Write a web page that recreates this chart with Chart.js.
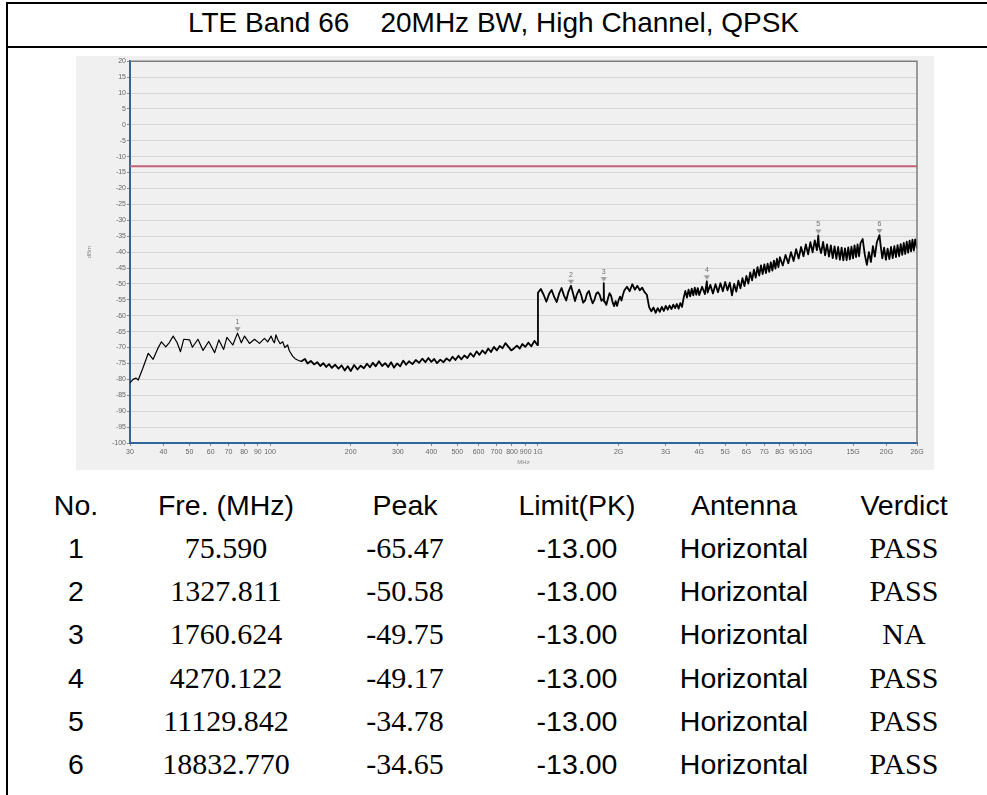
<!DOCTYPE html>
<html>
<head>
<meta charset="utf-8">
<title>LTE Band 66 20MHz BW, High Channel, QPSK</title>
<script src="https://cdn.jsdelivr.net/npm/chart.js@4.4.1/dist/chart.umd.min.js"></script>
<style>
  body { margin: 0; background: #fff; }
  #page { position: relative; width: 987px; height: 795px; overflow: hidden; background: #fff; }
  .rule { position: absolute; background: #000; }
  #title {
    position: absolute; left: 0; top: 23px; width: 987px; transform: translateY(-50%);
    text-align: center; font-family: "Liberation Sans", Arial, sans-serif; font-size: 28px;
    line-height: 1; white-space: pre; color: #000;
  }
  #chartBox { position: absolute; left: 76px; top: 56px; width: 858px; height: 414px; background: #f0f0f0; }
  .cell {
    position: absolute; transform: translate(-50%, -50%); line-height: 1; white-space: nowrap; color: #000;
    font-family: "Liberation Sans", Arial, sans-serif; font-size: 28.5px;
  }
  .cell.serif { font-family: "Liberation Serif", "Times New Roman", serif; font-size: 30px; }
</style>
</head>
<body>
<div id="page">
  <div class="rule" style="left:6px; top:2px; width:2px; height:793px;"></div>
  <div class="rule" style="left:6px; top:2px; width:981px; height:2px;"></div>
  <div class="rule" style="left:6px; top:46px; width:981px; height:2px;"></div>
  <div id="title">LTE Band 66    20MHz BW, High Channel, QPSK</div>
  <div id="chartBox"><canvas id="chart" width="858" height="414"></canvas></div>
  <div id="table"></div>
</div>

<script>
// ==================================================
// 1. DATA
// ==================================================
// Spectrum trace: [frequency MHz, level dBm]
const trace = [
  // 30 - 130 MHz
  [30,-81.1],[30.8,-80.0],[31.6,-79.6],[32.2,-80.2],[33.5,-76.5],[35.1,-71.8],[36.6,-73.7],[38.0,-70.5],
  [39.3,-68.2],[40.8,-69.8],[42.0,-68.5],[43.5,-66.4],[45.0,-68.5],[46.3,-71.3],[47.6,-67.4],[50.1,-67.6],
  [51.3,-69.9],[53.8,-67.4],[56.2,-70.9],[59.0,-68.1],[62.1,-71.6],[64.4,-67.6],[67.1,-70.6],[69.0,-66.8],
  [72.6,-69.2],[75.59,-65.47],[78.1,-68.5],[80.3,-66.4],[83.8,-68.7],[87.5,-67.4],[91.3,-68.7],[95.3,-67.1],
  [98.0,-68.2],[100.9,-66.4],[102.5,-67.8],[103.8,-68.5],[105.2,-66.0],[106.7,-67.4],[109,-68.8],[111.5,-68.2],
  [113.5,-70.0],[116.3,-69.2],[118,-71.0],[121.4,-72.7],[124,-73.5],[126.7,-73.9],[130.5,-74.4],
  // 135 MHz - 1 GHz
  [135,-73.6],[138,-75.0],[142,-74.2],[146,-75.3],[150,-74.6],[154,-75.8],[158,-74.9],[162,-76.1],
  [166,-75.2],[170,-76.4],[175,-75.4],[180,-76.6],[185,-75.6],[190,-77.2],[195,-75.9],[200,-77.4],
  [206,-75.5],[212,-76.9],[218,-75.7],[224,-76.5],[230,-75.1],[236,-76.2],[242,-74.8],[248,-75.9],
  [255,-74.3],[262,-75.8],[269,-74.9],[276,-76.1],[283,-74.6],[290,-76.3],[298,-75.0],[306,-75.9],
  [314,-74.1],[322,-75.4],[330,-74.3],[340,-75.2],[350,-73.9],[360,-74.8],[370,-73.5],[380,-74.6],
  [390,-73.3],[400,-74.5],[410,-73.6],[420,-74.9],[432,-73.8],[444,-74.6],[456,-73.4],[468,-74.2],
  [480,-72.9],[492,-73.9],[505,-72.6],[518,-73.7],[531,-72.5],[545,-73.3],[560,-71.8],[575,-72.9],
  [590,-71.2],[605,-72.3],[620,-70.9],[636,-71.9],[652,-70.3],[668,-71.4],[685,-69.8],[702,-70.9],
  [720,-69.5],[738,-70.2],[756,-68.6],[775,-69.7],[795,-70.9],[815,-70.2],[835,-69.4],[855,-70.3],
  [875,-68.9],[897,-69.8],[920,-68.5],[945,-69.6],[970,-67.9],[995,-69.2],
  // 1 - 2.1 GHz
  [1000,-52.8],[1025,-51.6],[1050,-53.4],[1075,-55.6],[1100,-53.2],[1125,-51.9],[1150,-54.1],[1175,-55.7],
  [1200,-53.0],[1225,-51.3],[1250,-53.6],[1275,-55.2],[1300,-52.4],[1327.8,-50.58],[1350,-52.8],[1375,-55.4],
  [1400,-53.1],[1425,-51.8],[1450,-53.5],[1475,-55.9],[1500,-55.2],[1525,-53.0],[1550,-52.2],[1575,-54.4],
  [1600,-56.1],[1625,-55.0],[1650,-53.1],[1675,-52.6],[1700,-53.4],[1725,-55.3],[1750,-54.8],[1760.6,-49.75],
  [1765,-55.5],[1775,-55.6],[1800,-56.6],[1825,-54.6],[1850,-52.9],[1875,-53.7],[1900,-55.8],[1925,-57.0],
  [1950,-55.4],[1975,-56.9],[2000,-55.1],[2025,-54.0],[2050,-55.2],[2075,-53.5],[2100,-52.1],
  // 2.1 - 4 GHz
  [2150,-50.9],[2200,-52.3],[2250,-50.1],[2300,-51.8],[2350,-50.6],[2400,-52.0],[2450,-51.2],[2500,-52.6],
  [2550,-53.4],[2600,-57.3],[2650,-58.6],[2700,-57.4],[2750,-59.1],[2800,-57.6],[2850,-58.8],[2900,-57.2],
  [2950,-58.5],[3000,-56.9],[3050,-58.1],[3100,-56.8],[3150,-57.9],[3200,-56.5],[3250,-57.6],[3300,-56.3],
  [3350,-57.8],[3400,-56.0],[3450,-57.2],[3500,-54.3],[3550,-52.2],[3600,-54.3],[3650,-51.8],[3700,-53.9],
  [3750,-51.5],[3800,-53.6],[3850,-51.2],[3900,-53.4],[3950,-51.3],[4000,-53.5],
  // 4 - 8 GHz
  [4100,-50.9],[4200,-53.2],[4270.1,-49.17],[4300,-52.7],[4400,-50.3],[4500,-53.0],[4600,-50.1],[4700,-52.6],
  [4800,-49.8],[4900,-52.3],[5000,-49.4],[5100,-52.0],[5200,-49.6],[5300,-53.6],[5400,-50.0],[5500,-52.4],
  [5600,-49.0],[5700,-51.4],[5800,-48.2],[5900,-50.7],[6000,-47.5],[6100,-49.9],[6200,-46.4],[6300,-48.9],
  [6400,-45.5],[6500,-48.0],[6600,-44.7],[6700,-47.4],[6800,-44.2],[6900,-46.9],[7000,-43.9],[7100,-46.6],
  [7200,-43.6],[7300,-46.2],[7400,-43.2],[7500,-45.8],[7600,-42.7],[7700,-45.2],[7800,-42.1],[7900,-44.7],
  [8000,-41.6],
  // 8 - 16 GHz
  [8200,-44.2],[8400,-40.9],[8600,-43.5],[8800,-40.0],[9000,-42.8],[9200,-39.1],[9400,-42.0],[9600,-38.4],
  [9800,-41.3],[10000,-37.6],[10200,-40.7],[10400,-36.9],[10600,-40.1],[10800,-36.3],[11000,-39.4],[11129.8,-34.78],
  [11200,-38.0],[11400,-40.3],[11600,-36.8],[11800,-41.0],[12000,-37.6],[12200,-41.4],[12400,-37.9],[12600,-41.9],
  [12800,-38.2],[13000,-42.1],[13200,-38.4],[13400,-42.4],[13600,-38.6],[13800,-42.6],[14000,-38.8],[14200,-42.5],
  [14400,-38.5],[14600,-42.3],[14800,-38.3],[15000,-42.0],[15200,-37.9],[15400,-41.6],[15600,-37.6],[15800,-41.3],
  [16000,-37.2],
  // 16 - 26 GHz
  [16300,-35.9],[16600,-40.8],[16900,-44.0],[17200,-40.0],[17500,-43.1],[17800,-38.1],[18100,-41.4],[18400,-37.0],
  [18832.8,-34.65],[19000,-37.6],[19300,-42.0],[19600,-38.6],[19900,-42.4],[20200,-38.9],[20500,-42.2],[20800,-38.4],
  [21100,-41.9],[21400,-38.1],[21700,-41.6],[22000,-37.8],[22300,-41.3],[22600,-37.5],[22900,-40.9],[23200,-37.1],
  [23500,-40.6],[23800,-36.7],[24100,-40.2],[24400,-36.4],[24700,-39.8],[25000,-36.1],[25300,-39.5],[25600,-36.0],
  [26000,-38.9]
];

// Limit line (dBm) across the whole span
const limitFreq = [30, 26000];
const limitLevel = [-13, -13];

// Marker table
const markerNo = [1, 2, 3, 4, 5, 6];
const markerFreq = ["75.590", "1327.811", "1760.624", "4270.122", "11129.842", "18832.770"];
const markerPeak = ["-65.47", "-50.58", "-49.75", "-49.17", "-34.78", "-34.65"];
const markerLimit = ["-13.00", "-13.00", "-13.00", "-13.00", "-13.00", "-13.00"];
const markerAntenna = ["Horizontal", "Horizontal", "Horizontal", "Horizontal", "Horizontal", "Horizontal"];
const markerVerdict = ["PASS", "PASS", "NA", "PASS", "PASS", "PASS"];

const tableHeaders = ["No.", "Fre. (MHz)", "Peak", "Limit(PK)", "Antenna", "Verdict"];

// Axis ticks
const xTickValues = [30, 40, 50, 60, 70, 80, 90, 100, 200, 300, 400, 500, 600, 700, 800, 900,
  1000, 2000, 3000, 4000, 5000, 6000, 7000, 8000, 9000, 10000, 15000, 20000, 26000];

// ==================================================
// 2. TABLE
// ==================================================
const colX = [76, 226, 405, 577, 744, 904];
const headerY = 505;
const rowY0 = 548;
const rowStep = 43.2;

function addCell(text, x, y, serif) {
  const div = document.createElement("div");
  div.className = serif ? "cell serif" : "cell";
  div.style.left = x + "px";
  div.style.top = y + "px";
  div.textContent = text;
  document.getElementById("table").appendChild(div);
}

tableHeaders.forEach((h, c) => addCell(h, colX[c], headerY, false));
markerNo.forEach((n, i) => {
  const y = rowY0 + i * rowStep;
  addCell(String(n), colX[0], y, false);
  addCell(markerFreq[i], colX[1], y, true);
  addCell(markerPeak[i], colX[2], y, true);
  addCell(markerLimit[i], colX[3], y, false);
  addCell(markerAntenna[i], colX[4], y, false);
  addCell(markerVerdict[i], colX[5], y, true);
});

// ==================================================
// 3. CHART
// ==================================================
// Down-pointing marker, drawn in the upper half so it sits just above the peak
const markerIcon = document.createElement("canvas");
markerIcon.width = 7;
markerIcon.height = 14;
(() => {
  const c = markerIcon.getContext("2d");
  c.fillStyle = "#9a9a9a";
  c.beginPath();
  c.moveTo(0.5, 1);
  c.lineTo(6.5, 1);
  c.lineTo(3.5, 5.5);
  c.closePath();
  c.fill();
})();

// Top / right frame of the plot
const frame = {
  id: "frame",
  afterDraw(chart) {
    const { ctx, chartArea: a } = chart;
    ctx.save();
    ctx.strokeStyle = "#7d7d7d";
    ctx.lineWidth = 1.5;
    ctx.beginPath();
    ctx.moveTo(a.left, a.top);
    ctx.lineTo(a.right, a.top);
    ctx.lineTo(a.right, a.bottom);
    ctx.stroke();
    ctx.restore();
  }
};

// Marker numbers above the triangles
const markerLabels = {
  id: "markerLabels",
  afterDatasetsDraw(chart) {
    const meta = chart.getDatasetMeta(0);
    const ctx = chart.ctx;
    ctx.save();
    ctx.fillStyle = "#6f6f6f";
    ctx.font = "7px 'Liberation Sans', Arial, sans-serif";
    ctx.textAlign = "center";
    ctx.textBaseline = "middle";
    meta.data.forEach((pt, i) => ctx.fillText(String(markerNo[i]), pt.x, pt.y - 11));
    ctx.restore();
  }
};

const tickFont = { family: "'Liberation Sans', Arial, sans-serif", size: 7 };
const axisBlue = "#31649a";

new Chart(document.getElementById("chart"), {
  type: "line",
  data: {
    datasets: [
      {
        label: "Markers",
        type: "scatter",
        data: markerFreq.map((f, i) => ({ x: parseFloat(f), y: parseFloat(markerPeak[i]) })),
        pointStyle: markerIcon,
        pointRadius: 4,
        showLine: false
      },
      {
        label: "Trace",
        data: trace.map(p => ({ x: p[0], y: p[1] })),
        borderColor: "#000",
        borderWidth: 1.8,
        segment: { borderWidth: c => (c.p0.parsed.x < 130 ? 1.2 : 1.8) },
        borderJoinStyle: "round",
        pointRadius: 0,
        tension: 0
      },
      {
        label: "Limit",
        data: limitFreq.map((f, i) => ({ x: f, y: limitLevel[i] })),
        borderColor: "#c5627a",
        borderWidth: 2,
        pointRadius: 0
      }
    ]
  },
  options: {
    responsive: false,
    animation: false,
    events: [],
    layout: { padding: { top: 5, right: 17, left: 0, bottom: 0 } },
    plugins: { legend: { display: false }, tooltip: { enabled: false } },
    scales: {
      x: {
        type: "logarithmic",
        min: 30,
        max: 26000,
        afterBuildTicks: s => { s.ticks = xTickValues.map(v => ({ value: v })); },
        afterFit: s => { s.height = 27; },
        ticks: {
          autoSkip: false,
          maxRotation: 0,
          padding: 2,
          color: "#666",
          font: tickFont,
          callback: v => (v >= 1000 ? (v / 1000) + "G" : String(v))
        },
        grid: { drawOnChartArea: false, tickLength: 3, tickColor: "#8a8a8a" },
        border: { color: axisBlue, width: 2 },
        title: { display: true, text: "MHz", color: "#888", font: { size: 6 }, padding: { top: 0, bottom: 4 } }
      },
      y: {
        min: -100,
        max: 20,
        afterFit: s => { s.width = 54; },
        ticks: { stepSize: 5, padding: 1, color: "#666", font: tickFont },
        grid: { color: "#d5d5d5", lineWidth: 1, tickLength: 3, tickColor: "#8a8a8a" },
        border: { color: axisBlue, width: 2 },
        title: { display: true, text: "dBm", color: "#888", font: { size: 6 }, padding: { top: 10, bottom: 0 } }
      }
    }
  },
  plugins: [frame, markerLabels]
});
</script>
</body>
</html>
